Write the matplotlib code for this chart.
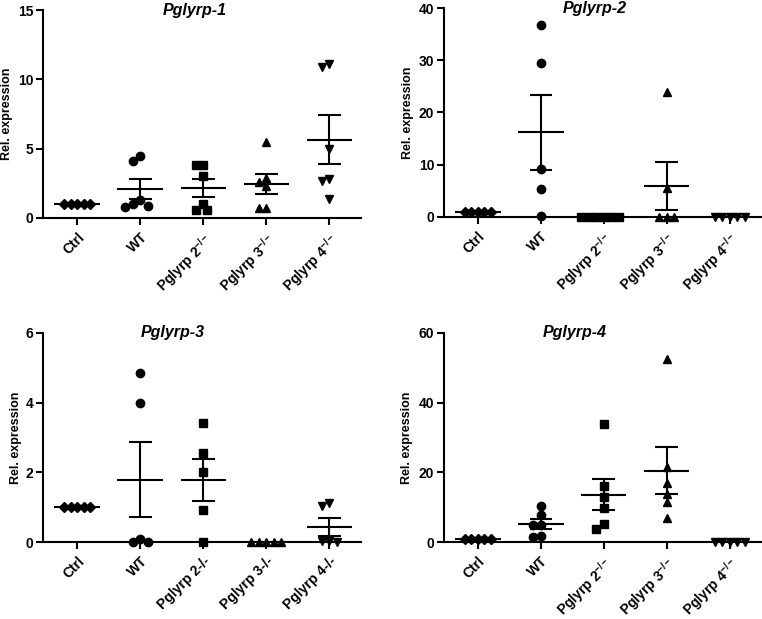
import numpy as np
import matplotlib
matplotlib.use("Agg")
import matplotlib.pyplot as plt

plt.rcParams['font.family'] = ['Liberation Sans', 'DejaVu Sans']
plt.rcParams['font.weight'] = 'bold'
plt.rcParams['mathtext.fontset'] = 'custom'
plt.rcParams['mathtext.rm'] = 'Liberation Sans:bold'
plt.rcParams['mathtext.it'] = 'Liberation Sans:bold:italic'
plt.rcParams['mathtext.bf'] = 'Liberation Sans:bold'

# group labels
groups_sup = ["Ctrl", "WT", "Pglyrp 2$^{-/-}$", "Pglyrp 3$^{-/-}$", "Pglyrp 4$^{-/-}$"]
groups_plain = ["Ctrl", "WT", "Pglyrp 2-/-", "Pglyrp 3-/-", "Pglyrp 4-/-"]
markers = ["D", "o", "s", "^", "v"]

# relative expression values
pglyrp1 = [
    [1.0, 1.0, 1.0, 1.0, 1.0],
    [4.5, 4.1, 1.0, 0.8, 1.3, 0.9],
    [3.85, 3.8, 3.05, 1.0, 0.55, 0.6],
    [5.5, 2.6, 2.3, 2.9, 0.7, 0.7],
    [11.1, 10.9, 5.0, 2.8, 2.7, 1.4],
]
pglyrp2 = [
    [1.0, 1.0, 1.0, 1.0, 1.0],
    [36.8, 29.5, 9.2, 5.4, 0.2],
    [0.0, 0.0, 0.0, 0.0, 0.0, 0.0],
    [24.0, 5.5, 0.0, 0.0, 0.0],
    [0.0, 0.0, 0.0, 0.0, 0.0],
]
pglyrp3 = [
    [1.0, 1.0, 1.0, 1.0, 1.0],
    [4.85, 4.0, 0.1, 0.0, 0.0],
    [3.43, 2.55, 2.0, 0.93, 0.0],
    [0.0, 0.0, 0.0, 0.0, 0.0],
    [1.13, 1.02, 0.03, 0.0, 0.03],
]
pglyrp4 = [
    [1.0, 1.0, 1.0, 1.0, 1.0],
    [10.4, 7.7, 5.0, 4.8, 1.5, 1.8],
    [34.0, 16.0, 13.0, 9.7, 5.3, 3.7],
    [52.5, 21.4, 17.0, 13.8, 11.4, 6.9],
    [0.0, 0.0, 0.0, 0.0, 0.0],
]

panels = [
    ("Pglyrp-1", pglyrp1, [0, 5, 10, 15], groups_sup),
    ("Pglyrp-2", pglyrp2, [0, 10, 20, 30, 40], groups_sup),
    ("Pglyrp-3", pglyrp3, [0, 2, 4, 6], groups_plain),
    ("Pglyrp-4", pglyrp4, [0, 20, 40, 60], groups_sup),
]

W, H = 762, 619
# axes boxes in pixels: left, right, top, bottom
boxes = [(43, 361, 10, 218), (444, 761, 8, 217), (43, 361, 333, 542), (444, 761, 333, 542)]
title_x = [1.87, 1.86, 1.52, 1.54]
ylabel_x = [-0.094, -0.095, -0.066, -0.098]


def swarm(vals, ypx, xpx, d=7.5):
    # simple beeswarm in pixel space
    vals = np.asarray(vals, dtype=float)
    offs = np.zeros(len(vals))
    placed = []
    cands = [0.0]
    for k in range(1, 30):
        cands += [-k * d / 2, k * d / 2]
    for i in np.argsort(-vals, kind="stable"):
        y = vals[i] * ypx
        for c in cands:
            if all((c - px) ** 2 + (y - py) ** 2 >= (d * 0.95) ** 2 for px, py in placed):
                break
        placed.append((c, y))
        offs[i] = c / xpx
    return offs


fig = plt.figure(figsize=(W / 100, H / 100), dpi=100)

for (title, data, yticks, labels), (l, r, t, b), tx, lx in zip(panels, boxes, title_x, ylabel_x):
    ax = fig.add_axes([l / W, 1 - b / H, (r - l) / W, (b - t) / H])
    ax.set_xlim(-0.54, 4.5)
    ax.set_ylim(0, yticks[-1])
    xpx = (r - l) / 5.04
    ypx = (b - t) / yticks[-1]
    for i, vals in enumerate(data):
        vals = np.asarray(vals)
        d = 6.5 if markers[i] == "D" else 7.5
        x = i + swarm(vals, ypx, xpx, d)
        ax.plot(x, vals, linestyle="none", marker=markers[i], color="black",
                markersize=6 if markers[i] != "D" else 5.5, clip_on=False, zorder=3)
        m = vals.mean()
        sem = vals.std(ddof=1) / np.sqrt(len(vals))
        ax.hlines(m, i - 0.36, i + 0.36, color="black", lw=1.5, zorder=4)
        if sem > 0:
            ax.vlines(i, m - sem, m + sem, color="black", lw=1.5, zorder=4)
            ax.hlines([m - sem, m + sem], i - 0.18, i + 0.18, color="black", lw=1.5, zorder=4)
    for s in ["top", "right"]:
        ax.spines[s].set_visible(False)
    for s in ["left", "bottom"]:
        ax.spines[s].set_linewidth(1.5)
    ax.set_yticks(yticks)
    ax.set_xticks(range(5))
    ax.set_xticklabels(labels, rotation=45, ha="right", va="top", rotation_mode="anchor",
                       fontsize=10, fontweight="bold")
    ax.tick_params(axis="both", direction="out", length=5, width=1.5, labelsize=10)
    ax.tick_params(axis="x", pad=4)
    ax.tick_params(axis="y", pad=2)
    for lab in ax.get_yticklabels():
        lab.set_fontweight("bold")
    ax.set_ylabel("Rel. expression", fontsize=9, fontweight="bold")
    ax.yaxis.set_label_coords(lx, 0.5)
    ax.text(tx, yticks[-1], title, ha="center", va="center", fontsize=11.5,
            fontweight="bold", fontstyle="italic")

fig.savefig("out.png", dpi=100)
